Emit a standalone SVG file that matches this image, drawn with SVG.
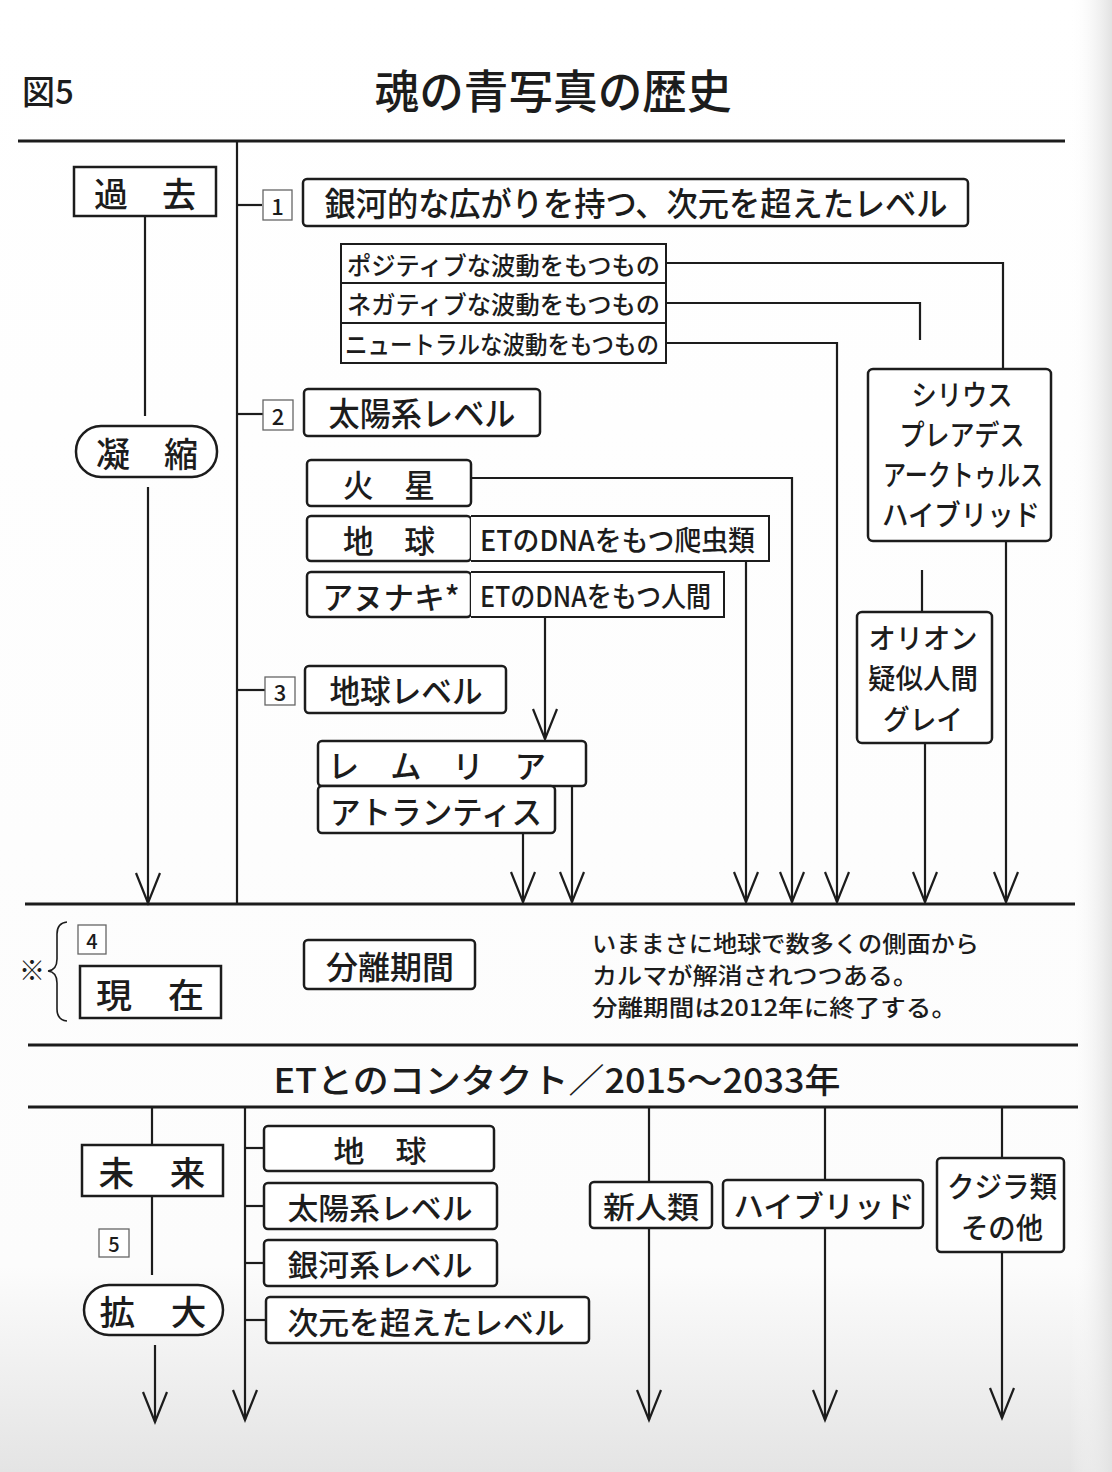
<svg xmlns="http://www.w3.org/2000/svg" width="1112" height="1472" viewBox="0 0 1112 1472">
<defs>
<linearGradient id="bg" x1="0" y1="0" x2="0" y2="1">
<stop offset="0" stop-color="#ffffff"/>
<stop offset="0.86" stop-color="#fcfcfc"/>
<stop offset="1" stop-color="#e4e4e4"/>
</linearGradient>
<linearGradient id="edge" x1="0" y1="0" x2="1" y2="0">
<stop offset="0" stop-color="#ffffff" stop-opacity="0"/>
<stop offset="1" stop-color="#e2e2e2"/>
</linearGradient>
<marker id="arr" markerUnits="userSpaceOnUse" markerWidth="44" markerHeight="44" viewBox="-36 -22 44 44" refX="0" refY="0" orient="auto">
<path d="M-30,-12 L0,0 L-30,12" fill="none" stroke="#1c1c1c" stroke-width="2.2"/>
</marker>
<style>
.t{font-family:"Noto Sans CJK JP","Noto Sans CJK SC",sans-serif;font-weight:500;fill:#1c1c1c;text-anchor:middle;dominant-baseline:central}
.l{font-family:"Noto Sans CJK JP","Noto Sans CJK SC",sans-serif;font-weight:500;fill:#1c1c1c;text-anchor:start;dominant-baseline:central}
.b{fill:#fff;stroke:#1c1c1c;stroke-width:2.5}
.bs{fill:#fff;stroke:#1c1c1c;stroke-width:2}
.n{fill:#fff;stroke:#666;stroke-width:1.3}
.c{fill:none;stroke:#1c1c1c;stroke-width:2.2}
.h{fill:none;stroke:#1c1c1c;stroke-width:3}
.a{fill:none;stroke:#1c1c1c;stroke-width:2.2;marker-end:url(#arr)}
</style>
</defs>
<rect x="0" y="0" width="1112" height="1472" fill="url(#bg)"/>
<rect x="1070" y="0" width="42" height="1472" fill="url(#edge)"/>

<g id="title">
<text class="l" x="22" y="90" font-size="33" font-weight="400">図5</text>
<text class="t" x="553" y="88" font-size="46" textLength="357" lengthAdjust="spacingAndGlyphs">魂の青写真の歴史</text>
</g>

<g id="connectors">
<path class="h" d="M18,141 H1065"/>
<path class="h" d="M25,904 H1075"/>
<path class="h" d="M28,1045 H1078"/>
<path class="h" d="M28,1107 H1078"/>
<path class="c" d="M237,141 V904"/>
<path class="c" d="M145,216 V416"/>
<path class="a" d="M148,487 V903"/>
<path class="c" d="M237,205 H262"/>
<path class="c" d="M237,414 H263"/>
<path class="c" d="M237,690 H265"/>
<path class="c" d="M666,263 H1003 V369"/>
<path class="a" d="M1006,541 V902"/>
<path class="c" d="M666,303 H920 V340"/>
<path class="c" d="M922,570 V612"/>
<path class="a" d="M925,743 V902"/>
<path class="a" d="M666,343 H837 V902"/>
<path class="a" d="M471,478 H792 V902"/>
<path class="a" d="M746,561 V902"/>
<path class="a" d="M545,617 V739"/>
<path class="a" d="M523,833 V902"/>
<path class="a" d="M572,786 V902"/>
<path class="c" d="M152,1107 V1145"/>
<path class="c" d="M152,1196 V1275"/>
<path class="a" d="M155,1345 V1422"/>
<path class="a" d="M245,1107 V1420"/>
<path class="c" d="M245,1148 H265"/>
<path class="c" d="M245,1206 H265"/>
<path class="c" d="M245,1263 H265"/>
<path class="c" d="M245,1320 H266"/>
<path class="c" d="M649,1107 V1182"/>
<path class="a" d="M649,1228 V1420"/>
<path class="c" d="M825,1107 V1180"/>
<path class="a" d="M825,1228 V1420"/>
<path class="c" d="M1002,1107 V1158"/>
<path class="a" d="M1002,1252 V1418"/>
</g>

<g id="past">
<rect class="b" x="74" y="167" width="142" height="49"/>
<text class="t" x="145" y="192" font-size="34" textLength="102" lengthAdjust="spacingAndGlyphs">過　去</text>
</g>
<g id="condense">
<rect class="b" x="76" y="426" width="141" height="51" rx="25"/>
<text class="t" x="147" y="452" font-size="34" textLength="102" lengthAdjust="spacingAndGlyphs">凝　縮</text>
</g>

<g id="n1">
<rect class="n" x="263" y="190" width="29" height="30"/>
<text class="t" x="277.5" y="205" font-size="22" font-weight="400">1</text>
</g>
<g id="galactic">
<rect class="b" x="303" y="179" width="665" height="47" rx="4"/>
<text class="t" x="636" y="202" font-size="33" textLength="623" lengthAdjust="spacingAndGlyphs">銀河的な広がりを持つ、次元を超えたレベル</text>
</g>
<g id="positive">
<rect class="bs" x="341" y="244" width="325" height="39"/>
<text class="l" x="347" y="264" font-size="25" textLength="313" lengthAdjust="spacingAndGlyphs">ポジティブな波動をもつもの</text>
</g>
<g id="negative">
<rect class="bs" x="341" y="283" width="325" height="40"/>
<text class="l" x="347" y="303" font-size="25" textLength="313" lengthAdjust="spacingAndGlyphs">ネガティブな波動をもつもの</text>
</g>
<g id="neutral">
<rect class="bs" x="341" y="323" width="325" height="40"/>
<text class="l" x="345" y="343" font-size="25" textLength="314" lengthAdjust="spacingAndGlyphs">ニュートラルな波動をもつもの</text>
</g>

<g id="n2">
<rect class="n" x="263" y="400" width="30" height="30"/>
<text class="t" x="278" y="415" font-size="22" font-weight="400">2</text>
</g>
<g id="solar">
<rect class="b" x="304" y="389" width="236" height="47" rx="4"/>
<text class="t" x="422" y="412" font-size="33" textLength="187" lengthAdjust="spacingAndGlyphs">太陽系レベル</text>
</g>

<g id="mars">
<rect class="b" x="307" y="460" width="164" height="46" rx="4"/>
<text class="t" x="389" y="483" font-size="32" textLength="92" lengthAdjust="spacingAndGlyphs">火　星</text>
</g>
<g id="earth">
<rect class="b" x="307" y="516" width="164" height="45" rx="4"/>
<text class="t" x="389" y="539" font-size="32" textLength="92" lengthAdjust="spacingAndGlyphs">地　球</text>
</g>
<g id="reptile">
<path class="bs" d="M471,516 H769 V561 H471"/>
<text class="l" x="480" y="539" font-size="28" textLength="275" lengthAdjust="spacingAndGlyphs">ETのDNAをもつ爬虫類</text>
</g>
<g id="anunnaki">
<rect class="b" x="307" y="572" width="164" height="45" rx="4"/>
<text class="t" x="391" y="595" font-size="31" textLength="137" lengthAdjust="spacingAndGlyphs">アヌナキ*</text>
</g>
<g id="human">
<path class="bs" d="M471,572 H724 V617 H471"/>
<text class="l" x="480" y="595" font-size="28" textLength="231" lengthAdjust="spacingAndGlyphs">ETのDNAをもつ人間</text>
</g>

<g id="n3">
<rect class="n" x="265" y="677" width="30" height="28"/>
<text class="t" x="280" y="691" font-size="22" font-weight="400">3</text>
</g>
<g id="earthlevel">
<rect class="b" x="305" y="666" width="201" height="47" rx="4"/>
<text class="t" x="406" y="689" font-size="32" textLength="153" lengthAdjust="spacingAndGlyphs">地球レベル</text>
</g>
<g id="lemuria">
<rect class="b" x="318" y="741" width="268" height="45" rx="4"/>
<text class="l" x="328" y="764" font-size="32" textLength="218" lengthAdjust="spacingAndGlyphs">レ　ム　リ　ア</text>
</g>
<g id="atlantis">
<rect class="b" x="318" y="786" width="237" height="47" rx="4"/>
<text class="l" x="330" y="810" font-size="32" textLength="212" lengthAdjust="spacingAndGlyphs">アトランティス</text>
</g>

<g id="sirius">
<rect class="b" x="868" y="369" width="183" height="172" rx="5"/>
<text class="t" x="962" y="393" font-size="29" textLength="101" lengthAdjust="spacingAndGlyphs">シリウス</text>
<text class="t" x="962" y="433" font-size="29" textLength="125" lengthAdjust="spacingAndGlyphs">プレアデス</text>
<text class="t" x="963" y="473" font-size="29" textLength="160" lengthAdjust="spacingAndGlyphs">アークトゥルス</text>
<text class="t" x="961" y="513" font-size="29" textLength="158" lengthAdjust="spacingAndGlyphs">ハイブリッド</text>
</g>
<g id="orion">
<rect class="b" x="857" y="612" width="135" height="131" rx="5"/>
<text class="t" x="923" y="637" font-size="28" textLength="109" lengthAdjust="spacingAndGlyphs">オリオン</text>
<text class="t" x="923" y="677" font-size="28" textLength="110" lengthAdjust="spacingAndGlyphs">疑似人間</text>
<text class="t" x="923" y="718" font-size="28" textLength="80" lengthAdjust="spacingAndGlyphs">グレイ</text>
</g>

<g id="present">
<text class="t" x="32" y="968" font-size="26" font-weight="400">※</text>
<path d="M67,922 Q57,923 57,934 V959 Q57,970 48,971 Q57,972 57,983 V1009 Q57,1020 67,1021" fill="none" stroke="#1c1c1c" stroke-width="1.6"/>
<rect class="n" x="78" y="925" width="28" height="29"/>
<text class="t" x="92" y="940" font-size="20" font-weight="400">4</text>
<rect class="b" x="80" y="966" width="141" height="52"/>
<text class="t" x="150" y="993" font-size="34" textLength="108" lengthAdjust="spacingAndGlyphs">現　在</text>
</g>
<g id="separation">
<rect class="b" x="304" y="940" width="171" height="49" rx="4"/>
<text class="t" x="390" y="965" font-size="32" textLength="128" lengthAdjust="spacingAndGlyphs">分離期間</text>
</g>
<g id="note">
<text class="l" x="592" y="942" font-size="23" textLength="387" lengthAdjust="spacingAndGlyphs">いままさに地球で数多くの側面から</text>
<text class="l" x="592" y="974" font-size="23" textLength="326" lengthAdjust="spacingAndGlyphs">カルマが解消されつつある。</text>
<text class="l" x="592" y="1006" font-size="23" textLength="365" lengthAdjust="spacingAndGlyphs">分離期間は2012年に終了する。</text>
</g>

<g id="contact">
<text class="t" x="557" y="1078" font-size="34" textLength="567" lengthAdjust="spacingAndGlyphs">ETとのコンタクト／2015〜2033年</text>
</g>

<g id="future">
<rect class="b" x="82" y="1145" width="141" height="51"/>
<text class="t" x="152" y="1171" font-size="34" textLength="107" lengthAdjust="spacingAndGlyphs">未　来</text>
</g>
<g id="n5">
<rect class="n" x="99" y="1229" width="30" height="28"/>
<text class="t" x="114" y="1243" font-size="20" font-weight="400">5</text>
</g>
<g id="expand">
<rect class="b" x="84" y="1285" width="139" height="50" rx="25"/>
<text class="t" x="153" y="1310" font-size="34" textLength="107" lengthAdjust="spacingAndGlyphs">拡　大</text>
</g>
<g id="f-earth">
<rect class="b" x="264" y="1126" width="230" height="45" rx="4"/>
<text class="t" x="380" y="1149" font-size="30" textLength="93" lengthAdjust="spacingAndGlyphs">地　球</text>
</g>
<g id="f-solar">
<rect class="b" x="264" y="1183" width="233" height="46" rx="4"/>
<text class="t" x="380" y="1206" font-size="30" textLength="185" lengthAdjust="spacingAndGlyphs">太陽系レベル</text>
</g>
<g id="f-galaxy">
<rect class="b" x="264" y="1240" width="233" height="46" rx="4"/>
<text class="t" x="380" y="1263" font-size="30" textLength="185" lengthAdjust="spacingAndGlyphs">銀河系レベル</text>
</g>
<g id="f-beyond">
<rect class="b" x="266" y="1297" width="323" height="46" rx="4"/>
<text class="t" x="426" y="1320" font-size="31" textLength="277" lengthAdjust="spacingAndGlyphs">次元を超えたレベル</text>
</g>
<g id="newhuman">
<rect class="b" x="590" y="1182" width="122" height="46" rx="4"/>
<text class="t" x="651" y="1205" font-size="30" textLength="96" lengthAdjust="spacingAndGlyphs">新人類</text>
</g>
<g id="hybrid">
<rect class="b" x="723" y="1180" width="200" height="48" rx="4"/>
<text class="t" x="824" y="1204" font-size="30" textLength="181" lengthAdjust="spacingAndGlyphs">ハイブリッド</text>
</g>
<g id="whales">
<rect class="b" x="937" y="1158" width="127" height="94" rx="4"/>
<text class="t" x="1002" y="1185" font-size="29" textLength="110" lengthAdjust="spacingAndGlyphs">クジラ類</text>
<text class="t" x="1002" y="1226" font-size="29" textLength="82" lengthAdjust="spacingAndGlyphs">その他</text>
</g>
</svg>
